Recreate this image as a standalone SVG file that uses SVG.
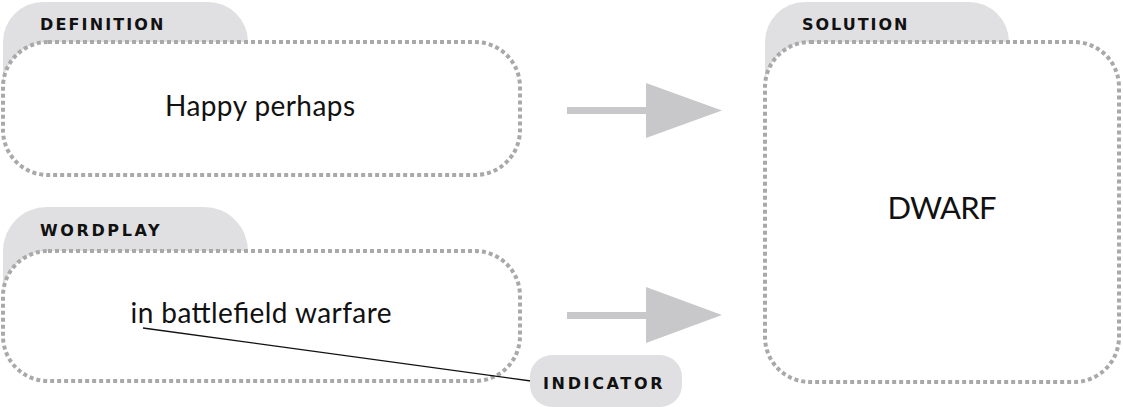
<svg xmlns="http://www.w3.org/2000/svg" width="1123" height="407" viewBox="0 0 1123 407">
<style>
.tab{fill:#e0e0e2}
.box{fill:#fff;stroke:#a9a9a9;stroke-width:4;stroke-dasharray:4 3}
.lbl{font-family:"DejaVu Sans",sans-serif;font-weight:bold;font-size:16px;letter-spacing:1.5px;fill:#111}
.txt{font-family:Lato,"Open Sans",sans-serif;font-size:28px;fill:#111;text-anchor:middle}
.arr{fill:#c8c8ca}
</style>
<rect width="1123" height="407" fill="#fff"/>
<g id="definition">
<path class="tab" d="M3,90 V42 A40,40 0 0 1 43,2 H208 A40,40 0 0 1 248,42 V90 Z"/>
<rect class="box" x="3" y="42" width="517" height="133" rx="45"/>
<text class="lbl" x="40" y="30" textLength="125">DEFINITION</text>
<text class="txt" x="260" y="116" textLength="190">Happy perhaps</text>
</g>
<g id="wordplay">
<path class="tab" d="M3,295 V251 A44,44 0 0 1 47,207 H204 A44,44 0 0 1 248,251 V295 Z"/>
<rect class="box" x="3" y="251" width="517" height="130" rx="45"/>
<text class="lbl" x="40" y="236" textLength="121">WORDPLAY</text>
<text class="txt" x="261" y="323" textLength="261">in battlefield warfare</text>
</g>
<g id="solution">
<path class="tab" d="M765,90 V42 A40,40 0 0 1 805,2 H969 A40,40 0 0 1 1009,42 V90 Z"/>
<rect class="box" x="765" y="42" width="354" height="340" rx="45"/>
<text class="lbl" x="802" y="30" textLength="107">SOLUTION</text>
<text class="txt" x="942" y="219" style="font-size:31px" textLength="109">DWARF</text>
</g>
<g id="connectors">
<line x1="143" y1="328" x2="531" y2="381" stroke="#111" stroke-width="1.3"/>
<rect class="arr" x="567" y="107" width="80" height="7"/>
<polygon class="arr" points="646,83 646,138 722,110.5"/>
<rect class="arr" x="567" y="312" width="80" height="7"/>
<polygon class="arr" points="646,287 646,343 722,315"/>
</g>
<g id="indicator">
<rect class="tab" x="530" y="355" width="152" height="52" rx="22"/>
<text class="lbl" x="543" y="389" textLength="121">INDICATOR</text>
</g>
</svg>
